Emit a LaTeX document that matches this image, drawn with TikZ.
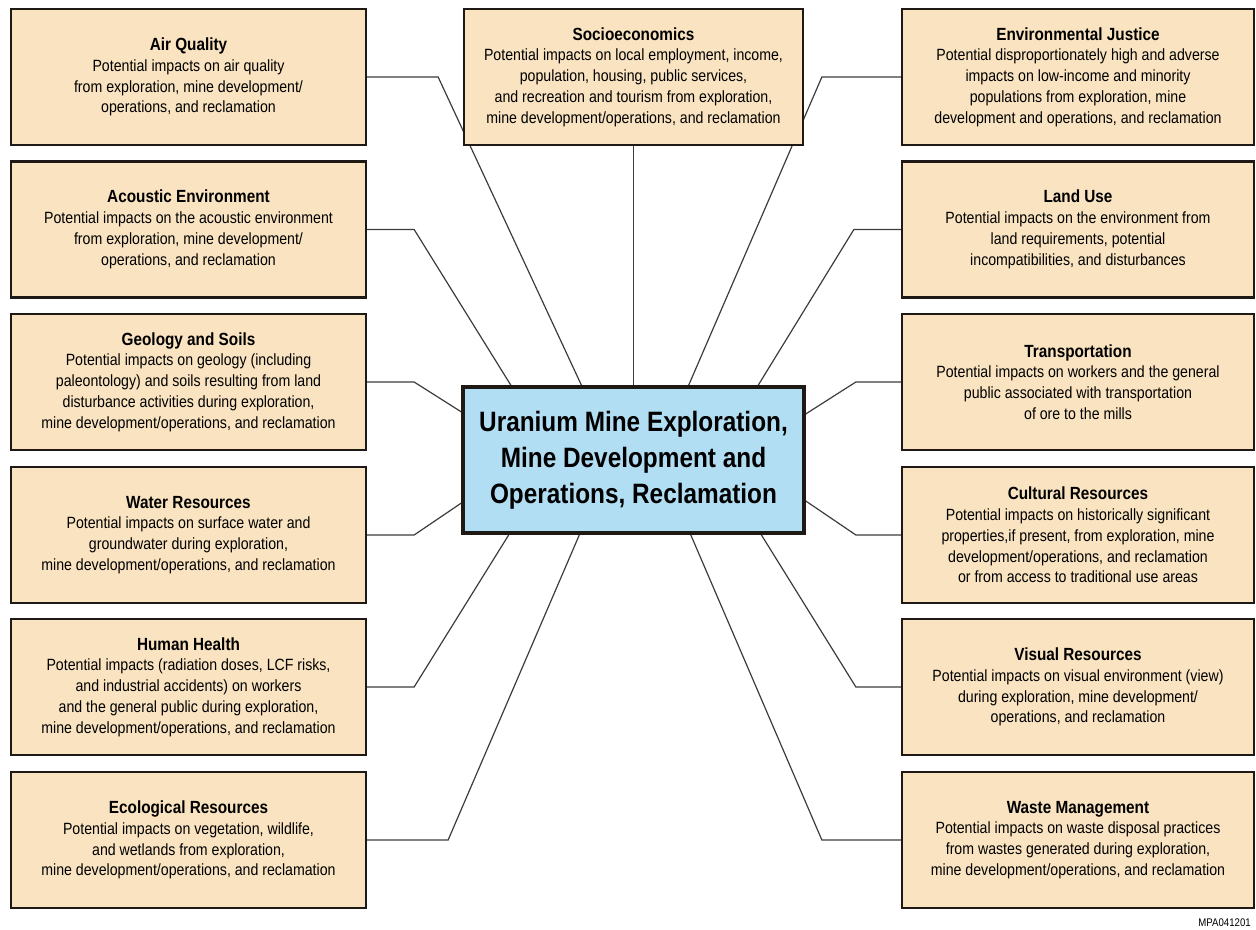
\documentclass[tikz,border=0pt]{standalone}
\usepackage{fontspec}
\setmainfont{Liberation Sans}[FakeStretch=0.87]
\usetikzlibrary{calc}
\definecolor{boxtan}{RGB}{249,227,192}
\definecolor{boxblue}{RGB}{178,222,244}
\definecolor{edgecol}{RGB}{30,25,20}
\definecolor{wirecol}{RGB}{60,60,60}
\pgfdeclarelayer{bg}
\pgfsetlayers{bg,main}
\tikzset{
  imp/.style={draw=edgecol, line width=1.7pt, fill=boxtan, minimum height=102pt,
    inner sep=0pt, align=center, font=\fontsize{12.2}{15.6}\selectfont},
  lbox/.style={imp, minimum width=266.25pt},
  rbox/.style={imp, minimum width=264pt},
  sbox/.style={imp, minimum width=254.25pt},
  hub/.style={draw=edgecol, line width=2.3pt, fill=boxblue, minimum width=255.75pt,
    minimum height=109.5pt, inner sep=0pt, align=center,
    font=\fontsize{21}{27}\selectfont\bfseries},
  wire/.style={draw=wirecol, line width=0.9pt},
  tag/.style={font=\fontsize{8.3}{10}\selectfont, inner sep=0pt, anchor=east}
}
\newcommand{\ttl}[1]{{\fontsize{13.2}{15.6}\selectfont\bfseries #1}}
\begin{document}
\begin{tikzpicture}[x=0.75pt, y=-0.75pt]
\useasboundingbox (0,0) rectangle (1256,930);
% hub
\node[hub] (c) at (633.5,460) {Uranium Mine Exploration,\\Mine Development and\\Operations, Reclamation};
% top middle
\node[sbox] (se) at (633.5,77) {\ttl{Socioeconomics}\\Potential impacts on local employment, income,\\population, housing, public services,\\and recreation and tourism from exploration,\\mine development/operations, and reclamation};
% left column
\node[lbox] (aq) at (188.5,77) {\ttl{Air Quality}\\Potential impacts on air quality\\from exploration, mine development/\\operations, and reclamation};
\node[lbox] (ae) at (188.5,229.5) {\ttl{Acoustic Environment}\\Potential impacts on the acoustic environment\\from exploration, mine development/\\operations, and reclamation};
\node[lbox] (gs) at (188.5,382) {\ttl{Geology and Soils}\\Potential impacts on geology (including\\paleontology) and soils resulting from land\\disturbance activities during exploration,\\mine development/operations, and reclamation};
\node[lbox] (wr) at (188.5,535) {\ttl{Water Resources}\\Potential impacts on surface water and\\groundwater during exploration,\\mine development/operations, and reclamation};
\node[lbox] (hh) at (188.5,687) {\ttl{Human Health}\\Potential impacts (radiation doses, LCF risks,\\and industrial accidents) on workers\\and the general public during exploration,\\mine development/operations, and reclamation};
\node[lbox] (er) at (188.5,840) {\ttl{Ecological Resources}\\Potential impacts on vegetation, wildlife,\\and wetlands from exploration,\\mine development/operations, and reclamation};
% right column
\node[rbox] (ej) at (1078,77) {\ttl{Environmental Justice}\\Potential disproportionately high and adverse\\impacts on low-income and minority\\populations from exploration, mine\\development and operations, and reclamation};
\node[rbox] (lu) at (1078,229.5) {\ttl{Land Use}\\Potential impacts on the environment from\\land requirements, potential\\incompatibilities, and disturbances};
\node[rbox] (tr) at (1078,382) {\ttl{Transportation}\\Potential impacts on workers and the general\\public associated with transportation\\of ore to the mills};
\node[rbox] (cr) at (1078,535) {\ttl{Cultural Resources}\\Potential impacts on historically significant\\properties,if present, from exploration, mine\\development/operations, and reclamation\\or from access to traditional use areas};
\node[rbox] (vr) at (1078,687) {\ttl{Visual Resources}\\Potential impacts on visual environment (view)\\during exploration, mine development/\\operations, and reclamation};
\node[rbox] (wm) at (1078,840) {\ttl{Waste Management}\\Potential impacts on waste disposal practices\\from wastes generated during exploration,\\mine development/operations, and reclamation};
\node[tag] (id) at (1251,923) {MPA041201};
% bend points
\coordinate (baq) at ($(aq.east)+(71,0)$);
\coordinate (bae) at ($(ae.east)+(47,0)$);
\coordinate (bgs) at ($(gs.east)+(47,0)$);
\coordinate (bwr) at ($(wr.east)+(47,0)$);
\coordinate (bhh) at ($(hh.east)+(47,0)$);
\coordinate (ber) at ($(er.east)+(81,0)$);
\coordinate (bej) at ($(ej.west)+(-79,0)$);
\coordinate (blu) at ($(lu.west)+(-47,0)$);
\coordinate (btr) at ($(tr.west)+(-45,0)$);
\coordinate (bcr) at ($(cr.west)+(-45,0)$);
\coordinate (bvr) at ($(vr.west)+(-45,0)$);
\coordinate (bwm) at ($(wm.west)+(-79,0)$);
% hub attachment points
\coordinate (t1) at ($(c.north west)!0.144!(c.north east)$);
\coordinate (t2) at ($(c.north west)!0.349!(c.north east)$);
\coordinate (t4) at ($(c.north west)!0.660!(c.north east)$);
\coordinate (t5) at ($(c.north west)!0.862!(c.north east)$);
\coordinate (d1) at ($(c.south west)!0.138!(c.south east)$);
\coordinate (d2) at ($(c.south west)!0.343!(c.south east)$);
\coordinate (d4) at ($(c.south west)!0.666!(c.south east)$);
\coordinate (d5) at ($(c.south west)!0.871!(c.south east)$);
\coordinate (l1) at ($(c.north west)!0.178!(c.south west)$);
\coordinate (l2) at ($(c.north west)!0.788!(c.south west)$);
\coordinate (r1) at ($(c.north east)!0.192!(c.south east)$);
\coordinate (r2) at ($(c.north east)!0.774!(c.south east)$);
\begin{pgfonlayer}{bg}
\draw[wire] (aq.east) -- (baq) -- (t2);
\draw[wire] (ae.east) -- (bae) -- (t1);
\draw[wire] (gs.east) -- (bgs) -- (l1);
\draw[wire] (wr.east) -- (bwr) -- (l2);
\draw[wire] (hh.east) -- (bhh) -- (d1);
\draw[wire] (er.east) -- (ber) -- (d2);
\draw[wire] (se.south) -- (c.north);
\draw[wire] (ej.west) -- (bej) -- (t4);
\draw[wire] (lu.west) -- (blu) -- (t5);
\draw[wire] (tr.west) -- (btr) -- (r1);
\draw[wire] (cr.west) -- (bcr) -- (r2);
\draw[wire] (vr.west) -- (bvr) -- (d5);
\draw[wire] (wm.west) -- (bwm) -- (d4);
\end{pgfonlayer}
\end{tikzpicture}
\end{document}
